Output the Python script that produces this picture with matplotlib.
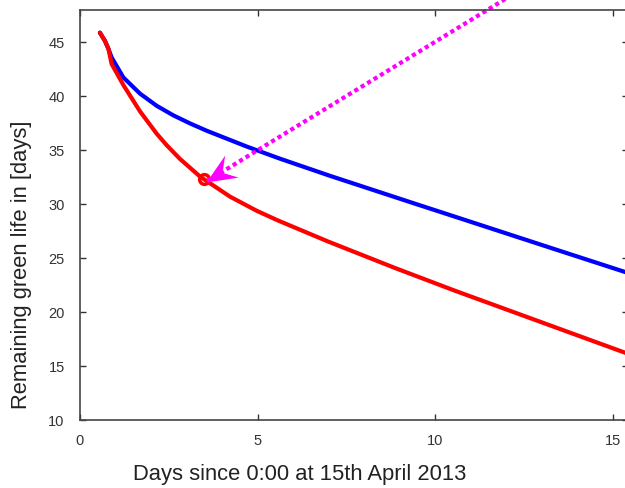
import numpy as np
import matplotlib
matplotlib.use("Agg")
import matplotlib.pyplot as plt
from matplotlib.path import Path

plt.rcParams['font.family'] = ['Liberation Sans', 'DejaVu Sans']

# blue curve
blue_x = [0.56, 0.70, 0.80, 0.89, 1.22, 1.69, 2.16, 2.62, 3.09, 3.56, 4.69, 5.63, 7.03,
          9.29, 10.55, 13.3, 15.5]
blue_y = [45.9, 45.15, 44.4, 43.6, 41.75, 40.25, 39.12, 38.25, 37.5, 36.82, 35.35, 34.22, 32.64,
          30.2, 28.85, 25.9, 23.55]

# red curve
red_x = [0.56, 0.70, 0.80, 0.89, 1.22, 1.69, 2.16, 2.44, 2.81, 3.38, 4.22, 4.97, 5.57,
         6.98, 8.86, 10.55, 15.5]
red_y = [45.9, 45.15, 44.4, 43.0, 41.05, 38.6, 36.53, 35.47, 34.21, 32.56, 30.71, 29.4, 28.5,
         26.55, 24.1, 21.99, 16.05]

# marker + arrow
mark_x, mark_y = 3.5, 32.3
arrow_tail = (12.6, 50.3)
arrow_tip = (3.55, 32.1)

fig = plt.figure(figsize=(6.25, 4.88), dpi=100)
ax = fig.add_axes([0.128, 0.139, 0.877, 0.8405])

ax.plot(blue_x, blue_y, color='#0000ff', lw=3, solid_capstyle='round', solid_joinstyle='round')
ax.plot(red_x, red_y, color='#ff0000', lw=3, solid_capstyle='round', solid_joinstyle='round')
ax.plot([mark_x], [mark_y], 'o', ms=7, mfc='none', mec='#ff0000', mew=2.5)

# dotted arrow shaft
ax.plot([arrow_tail[0], arrow_tip[0]], [arrow_tail[1], arrow_tip[1]],
        color='#ff00ff', lw=3, dashes=(1, 0.8), clip_on=False, solid_capstyle='butt')

ax.set_xlim(0, 15.42)
ax.set_ylim(10, 48)

# arrow head as a custom marker rotated along the shaft
fig.canvas.draw()
p0 = ax.transData.transform(arrow_tail)
p1 = ax.transData.transform(arrow_tip)
ang = np.arctan2(p1[1] - p0[1], p1[0] - p0[0])
verts = np.array([[0, 0], [-1.0, 0.42], [-0.62, 0], [-1.0, -0.44], [0, 0]])
c, s = np.cos(ang), np.sin(ang)
rot = verts @ np.array([[c, s], [-s, c]])
m = np.max(np.abs(rot))
head = Path(rot, [Path.MOVETO, Path.LINETO, Path.LINETO, Path.LINETO, Path.CLOSEPOLY])
head_len_pt = 30 * 72 / 100
ax.plot([arrow_tip[0]], [arrow_tip[1]], marker=head, ms=2 * head_len_pt * m,
        color='#ff00ff', mec='#ff00ff', mew=0)

ax.set_xticks([0, 5, 10, 15])
ax.set_yticks([10, 15, 20, 25, 30, 35, 40, 45])
ax.tick_params(direction='in', length=4.5, width=1, colors='#333333', labelsize=10.5,
               top=True, right=True, pad=10)
ax.tick_params(axis='y', pad=11)
for sp in ax.spines.values():
    sp.set_color('#444444')
    sp.set_linewidth(1.2)

ax.set_xlabel('Days since 0:00 at 15th April 2013', fontsize=15.8, color='#222222', va='center')
ax.set_ylabel('Remaining green life in [days]', fontsize=15.8, color='#222222', va='center')
ax.xaxis.set_label_coords(0.40, -0.132)
ax.yaxis.set_label_coords(-0.106, 0.38)

fig.savefig('out.png', dpi=100)
